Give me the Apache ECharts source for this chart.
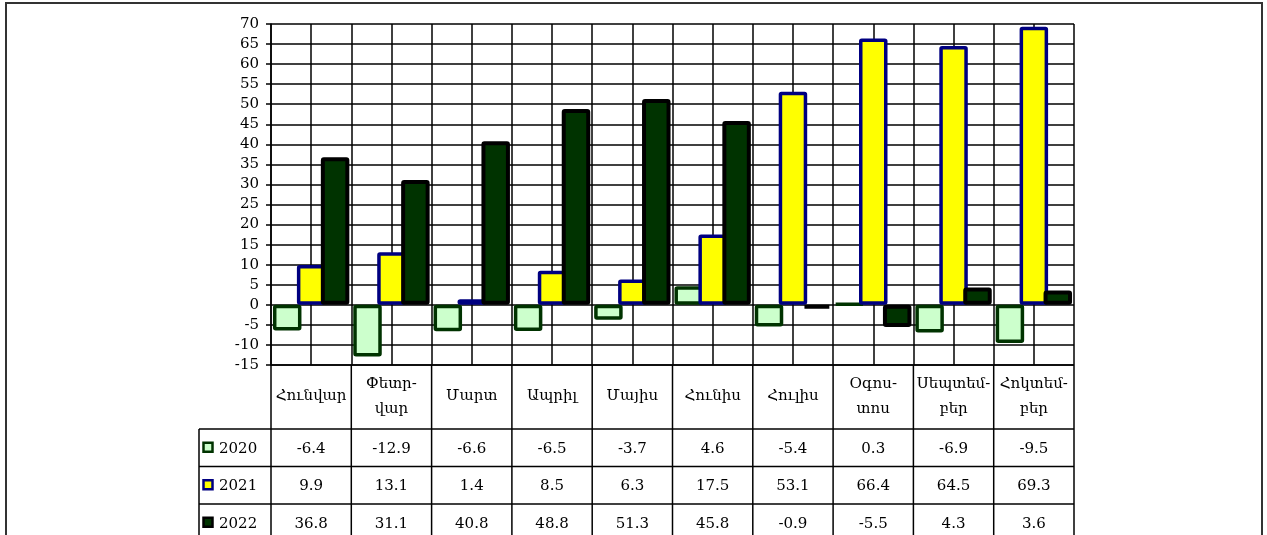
<!DOCTYPE html>
<html>
<head>
<meta charset="utf-8">
<script src="https://cdn.jsdelivr.net/npm/echarts@6/dist/echarts.min.js"></script>
<style>
html,body{margin:0;padding:0;background:#fff;}
#main{width:1267px;height:535px;}
</style>
</head>
<body>
<div id="main"></div>
<script>
const categories = ['Հունվար','Փետր-\nվար','Մարտ','Ապրիլ','Մայիս','Հունիս','Հուլիս','Օգոս-\nտոս','Սեպտեմ-\nբեր','Հոկտեմ-\nբեր'];
const years = ['2020','2021','2022'];
const values2020 = [-6.4,-12.9,-6.6,-6.5,-3.7,4.6,-5.4,0.3,-6.9,-9.5];
const values2021 = [9.9,13.1,1.4,8.5,6.3,17.5,53.1,66.4,64.5,69.3];
const values2022 = [36.8,31.1,40.8,48.8,51.3,45.8,-0.9,-5.5,4.3,3.6];
const yMin = -15, yMax = 70, yStep = 5;

const FONT = '"DejaVu Serif","Liberation Serif",serif';
const seriesValues = [values2020, values2021, values2022];
const fills = ['#CCFFCC', '#FFFF00', '#003300'];
const borders = ['#003300', '#000080', '#000000'];
const borderWidths = [3.5, 3.5, 4];

const chart = echarts.init(document.getElementById('main'));
chart.setOption({
  animation: false,
  backgroundColor: '#fff',
  grid: {left: 271, right: 193, top: 24, bottom: 170, containLabel: false},
  xAxis: [
    {type: 'category', data: categories, position: 'bottom',
     axisLine: {show: false}, axisTick: {show: false}, axisLabel: {show: false}, splitLine: {show: false}},
    {type: 'value', min: 0, max: categories.length * 2, interval: 1, position: 'top',
     axisLine: {show: false}, axisTick: {show: false}, axisLabel: {show: false},
     splitLine: {show: true, lineStyle: {color: '#000', width: 1.5}}}
  ],
  yAxis: {
    type: 'value', min: yMin, max: yMax, interval: yStep,
    axisLine: {show: true, lineStyle: {color: '#000', width: 1.5}},
    axisTick: {show: true, length: 5, lineStyle: {color: '#000', width: 1.5}},
    axisLabel: {color: '#000', fontFamily: FONT, fontSize: 15, margin: 12},
    splitLine: {show: true, lineStyle: {color: '#000', width: 1.5}}
  },
  series: years.map((y, i) => ({
    name: y, type: 'bar', xAxisIndex: 0, data: seriesValues[i],
    barWidth: 28.5, barGap: '-16%',
    itemStyle: {color: fills[i], borderColor: borders[i], borderWidth: borderWidths[i], borderRadius: 1}
  }))
});

function buildTable() {
  const c0 = chart.convertToPixel({xAxisIndex: 0}, categories[0]);
  const c1 = chart.convertToPixel({xAxisIndex: 0}, categories[1]);
  const band = c1 - c0;
  const left = c0 - band / 2;
  const right = left + band * categories.length;
  const yBottomAxis = chart.convertToPixel({yAxisIndex: 0}, yMin);
  const headerH = 64;
  const rowH = 37.5;
  const keyColLeft = 199;
  const headerBottom = yBottomAxis + headerH;
  const g = [];
  const L = (x1, y1, x2, y2, w) => g.push({type: 'line', silent: true, z: 10,
    shape: {x1, y1, x2, y2}, style: {stroke: '#000', lineWidth: w || 1.5}});
  const T = (text, x, y, align) => g.push({type: 'text', silent: true, z: 11,
    style: {text, x, y, font: '15px ' + FONT, fill: '#000',
      align: align || 'center', verticalAlign: 'middle', textAlign: align || 'center', textVerticalAlign: 'middle', lineHeight: 25}});
  // frame
  g.push({type: 'rect', silent: true, z: 0, shape: {x: 6, y: 3, width: 1256, height: 620},
    style: {fill: 'none', stroke: '#333', lineWidth: 2}});
  // vertical lines
  for (let k = 0; k <= categories.length; k++) {
    const x = left + k * band;
    L(x, yBottomAxis, x, 560);
  }
  L(keyColLeft, headerBottom, keyColLeft, 560);
  // horizontal lines
  L(left, yBottomAxis, right, yBottomAxis);
  for (let r = 0; r <= years.length; r++) {
    const y = headerBottom + r * rowH;
    L(keyColLeft, y, right, y);
  }
  // header labels
  categories.forEach((c, k) => {
    T(c, left + (k + 0.5) * band, yBottomAxis + headerH / 2 - 0.5);
  });
  // rows
  years.forEach((yr, r) => {
    const cy = headerBottom + (r + 0.5) * rowH;
    g.push({type: 'rect', silent: true, z: 11, shape: {x: 203.5, y: cy - 5, width: 9, height: 9},
      style: {fill: fills[r], stroke: borders[r], lineWidth: 2.5}});
    T(yr, 219, cy + 1, 'left');
    seriesValues[r].forEach((v, k) => {
      T(v.toFixed(1), left + (k + 0.5) * band, cy + 1);
    });
  });
  chart.setOption({graphic: g});
}
buildTable();
</script>
</body>
</html>
